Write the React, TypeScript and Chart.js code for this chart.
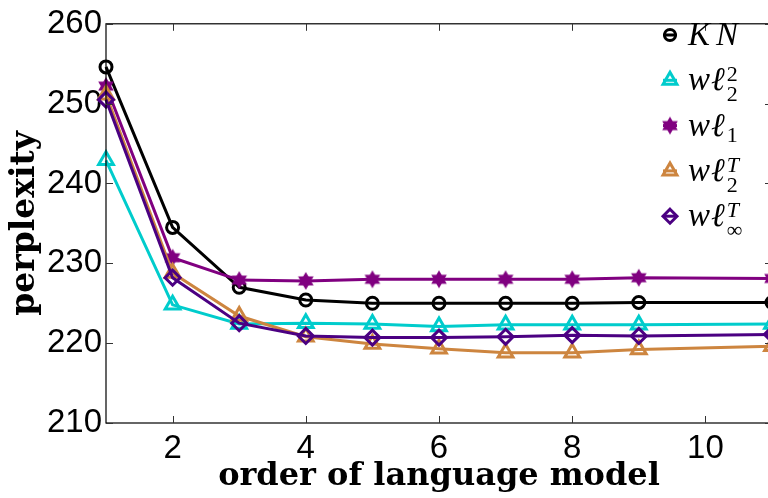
import React, { useEffect, useRef } from 'react';
import { Chart, registerables } from 'chart.js';

Chart.register(...registerables);

// ---- data ----
const orders = [1, 2, 3, 4, 5, 6, 7, 8, 9, 11];
const knValues = [254.6, 234.5, 227.0, 225.4, 225.0, 225.0, 225.0, 225.0, 225.1, 225.1];
const wl22Values = [242.9, 224.8, 222.4, 222.5, 222.4, 222.1, 222.3, 222.3, 222.3, 222.4];
const wl1Values = [252.2, 230.7, 227.9, 227.8, 228.0, 228.0, 228.0, 228.0, 228.2, 228.1];
const wl2TValues = [251.1, 228.8, 223.4, 220.8, 219.9, 219.3, 218.8, 218.8, 219.2, 219.6];
const wlInfTValues = [250.5, 228.2, 222.5, 220.9, 220.7, 220.7, 220.8, 221.0, 220.9, 221.1];

const seriesBase = ['KN', 'wℓ', 'wℓ', 'wℓ', 'wℓ'];
const seriesSup = ['', '2', '', 'T', 'T'];
const seriesSub = ['', '2', '1', '2', '∞'];

const xTickValues = [2, 4, 6, 8, 10];
const yTickValues = [210, 220, 230, 240, 250, 260];

const xTitle = 'order of language model';
const yTitle = 'perplexity';

// ---- layout / style ----
const W = 790;
const H = 498;
const PLOT_LEFT = 106;
const PLOT_TOP = 20;
const PLOT_BOTTOM = 423;
const PLOT_RIGHT = 772;

const COLORS = ['#000000', '#00CCCC', '#800080', '#CD853F', '#4B0082'];
const MARKERS = ['circle', 'triangle', 'hexagram', 'triangle', 'diamond'];

function makeHexagram(color: string, R: number): HTMLCanvasElement {
  const size = Math.ceil(2 * R + 2);
  const c = document.createElement('canvas');
  c.width = size;
  c.height = size;
  const g = c.getContext('2d')!;
  const cx = size / 2;
  const cy = size / 2;
  g.fillStyle = color;
  for (let t = 0; t < 2; t++) {
    g.beginPath();
    for (let k = 0; k < 3; k++) {
      const a = -Math.PI / 2 + t * Math.PI + (k * 2 * Math.PI) / 3;
      const px = cx + R * Math.cos(a);
      const py = cy + R * Math.sin(a);
      if (k === 0) g.moveTo(px, py);
      else g.lineTo(px, py);
    }
    g.closePath();
    g.fill();
  }
  return c;
}

function drawMarker(ctx: CanvasRenderingContext2D, kind: string, color: string, x: number, y: number, star: HTMLCanvasElement) {
  ctx.save();
  ctx.strokeStyle = color;
  ctx.fillStyle = color;
  ctx.lineWidth = 3;
  ctx.beginPath();
  if (kind === 'circle') {
    ctx.arc(x, y, 5.5, 0, Math.PI * 2);
    ctx.stroke();
  } else if (kind === 'triangle') {
    const r = 8;
    ctx.moveTo(x, y - r);
    ctx.lineTo(x + r * Math.sin((2 * Math.PI) / 3), y - r * Math.cos((2 * Math.PI) / 3));
    ctx.lineTo(x - r * Math.sin((2 * Math.PI) / 3), y - r * Math.cos((2 * Math.PI) / 3));
    ctx.closePath();
    ctx.stroke();
  } else if (kind === 'diamond') {
    const r = 7;
    ctx.moveTo(x, y - r);
    ctx.lineTo(x + r, y);
    ctx.lineTo(x, y + r);
    ctx.lineTo(x - r, y);
    ctx.closePath();
    ctx.stroke();
  } else if (kind === 'hexagram') {
    ctx.drawImage(star, x - star.width / 2, y - star.height / 2);
  }
  ctx.restore();
}

export default function App() {
  const canvasRef = useRef<HTMLCanvasElement | null>(null);

  useEffect(() => {
    const canvas = canvasRef.current;
    if (!canvas) return;
    const star = makeHexagram(COLORS[2], 9);

    const seriesValues = [knValues, wl22Values, wl1Values, wl2TValues, wlInfTValues];

    const pointStyleFor = (i: number): any => {
      const m = MARKERS[i];
      if (m === 'hexagram') return star;
      if (m === 'diamond') return 'rectRot';
      return m;
    };
    const radiusFor = (i: number) => {
      const m = MARKERS[i];
      if (m === 'circle') return 6;
      if (m === 'triangle') return 8.5;
      if (m === 'diamond') return 7.5;
      return 8;
    };

    const datasets = seriesValues.map((vals, i) => ({
      label: seriesBase[i] + seriesSup[i] + seriesSub[i],
      data: orders.map((o, k) => ({ x: o, y: vals[k] })),
      borderColor: COLORS[i],
      backgroundColor: 'rgba(0,0,0,0)',
      borderWidth: 3,
      pointStyle: pointStyleFor(i),
      pointRadius: radiusFor(i),
      pointBorderWidth: 3,
      pointBorderColor: COLORS[i],
      pointBackgroundColor: 'rgba(0,0,0,0)',
      tension: 0,
      order: seriesValues.length - i,
      clip: false as any,
    }));

    const framePlugin = {
      id: 'matlabFrame',
      afterDatasetsDraw(chart: any) {
        const { ctx, chartArea, scales } = chart;
        const { left, right, top, bottom } = chartArea;
        ctx.save();
        ctx.strokeStyle = '#000';
        ctx.lineWidth = 1.2;
        ctx.strokeRect(left, top, right - left, bottom - top);
        ctx.strokeStyle = '#333';
        ctx.lineWidth = 1;
        const tl = 7;
        xTickValues.forEach((v) => {
          const px = Math.round(scales.x.getPixelForValue(v)) + 0.5;
          ctx.beginPath();
          ctx.moveTo(px, bottom);
          ctx.lineTo(px, bottom - tl);
          ctx.moveTo(px, top);
          ctx.lineTo(px, top + tl);
          ctx.stroke();
        });
        yTickValues.forEach((v) => {
          const py = Math.round(scales.y.getPixelForValue(v)) + 0.5;
          ctx.beginPath();
          ctx.moveTo(left, py);
          ctx.lineTo(left + tl, py);
          ctx.moveTo(right, py);
          ctx.lineTo(right - tl, py);
          ctx.stroke();
        });
        ctx.restore();
      },
      afterDraw(chart: any) {
        const { ctx } = chart;
        const markerX = 670;
        const textX = 688;
        const y0 = 35;
        const dy = 45.3;
        ctx.save();
        for (let i = 0; i < seriesBase.length; i++) {
          const y = y0 + i * dy;
          // short line segment
          ctx.strokeStyle = COLORS[i];
          ctx.lineWidth = 3;
          ctx.beginPath();
          ctx.moveTo(markerX - 7, y);
          ctx.lineTo(markerX + 7, y);
          ctx.stroke();
          drawMarker(ctx, MARKERS[i], COLORS[i], markerX, y, star);

          // label text (math style)
          const base = y + 10;
          ctx.fillStyle = '#000';
          ctx.textAlign = 'left';
          ctx.textBaseline = 'alphabetic';
          ctx.font = 'italic 33px "Liberation Serif"';
          let x = textX;
          const chars = Array.from(seriesBase[i]);
          chars.forEach((ch, k) => {
            ctx.fillText(ch, x, base);
            const extra = ch === 'K' ? 6 : k < chars.length - 1 ? 1 : 2;
            x += ctx.measureText(ch).width + extra;
          });
          const sup = seriesSup[i];
          const sub = seriesSub[i];
          if (sup) {
            ctx.font = (sup === 'T' ? 'italic ' : '') + '22px "Liberation Serif"';
            ctx.fillText(sup, x, base - 9);
          }
          if (sub) {
            ctx.font = '22px "Liberation Serif"';
            ctx.fillText(sub, x, base + (sup ? 11 : 6));
          }
        }
        ctx.restore();
      },
    };

    const chart = new Chart(canvas, {
      type: 'line',
      data: { datasets },
      options: {
        responsive: false,
        maintainAspectRatio: false,
        animation: false,
        devicePixelRatio: 1,
        layout: { padding: { left: 0, top: PLOT_TOP, right: W - PLOT_RIGHT, bottom: 0 } },
        plugins: {
          legend: { display: false },
          tooltip: { enabled: false },
        },
        scales: {
          x: {
            type: 'linear',
            min: 1,
            max: 11,
            grid: { display: false, drawTicks: false },
            border: { display: false },
            afterBuildTicks: (s: any) => {
              s.ticks = xTickValues.map((v) => ({ value: v }));
            },
            afterFit: (s: any) => {
              s.height = H - PLOT_BOTTOM;
            },
            ticks: {
              color: '#000',
              font: { family: 'Liberation Sans', size: 33 },
              padding: 6,
              maxRotation: 0,
              autoSkip: false,
            },
            title: {
              display: true,
              text: xTitle,
              color: '#000',
              font: { family: 'DejaVu Serif', size: 32, weight: 'bold' },
              padding: { top: 0, bottom: 2 },
            },
          },
          y: {
            type: 'linear',
            min: 210,
            max: 260,
            grid: { display: false, drawTicks: false },
            border: { display: false },
            afterBuildTicks: (s: any) => {
              s.ticks = yTickValues.map((v) => ({ value: v }));
            },
            afterFit: (s: any) => {
              s.width = PLOT_LEFT;
            },
            ticks: {
              color: '#000',
              font: { family: 'Liberation Sans', size: 33 },
              padding: 4,
              autoSkip: false,
            },
            title: {
              display: true,
              text: yTitle,
              color: '#000',
              font: { family: 'DejaVu Serif', size: 33, weight: 'bold' },
              padding: { top: 6, bottom: 0 },
            },
          },
        },
      } as any,
      plugins: [framePlugin],
    });

    return () => {
      chart.destroy();
    };
  }, []);

  return (
    <div
      style={{
        position: 'fixed',
        left: 0,
        top: 0,
        width: 768,
        height: 498,
        overflow: 'hidden',
        background: '#fff',
      }}
    >
      <canvas ref={canvasRef} width={W} height={H} style={{ display: 'block', width: W, height: H }} />
    </div>
  );
}
